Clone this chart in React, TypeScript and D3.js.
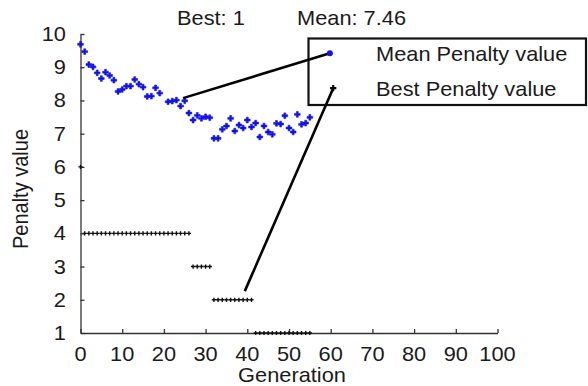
import React, { useEffect, useRef } from 'react';
import * as d3 from 'd3';

// mean penalty per generation (gen = index), gen 20 not visible in the plot
const meanPenalty: (number | null)[] = [
  9.69, 9.47, 9.08, 9.01, 8.83, 8.66, 8.85, 8.75, 8.61, 8.27,
  8.33, 8.43, 8.43, 8.63, 8.49, 8.40, 8.12, 8.13, 8.38, 8.22,
  null, 7.96, 7.98, 8.01, 7.83, 7.99, 7.62, 7.41, 7.55, 7.46,
  7.51, 7.48, 6.86, 6.86, 7.13, 7.23, 7.46, 7.08, 7.26, 7.17,
  7.41, 7.20, 7.32, 6.90, 7.23, 7.05, 6.98, 7.31, 7.29, 7.54,
  7.17, 7.05, 7.58, 7.28, 7.32, 7.49,
];

const bestPenalty: number[] = [
  6, 4, 4, 4, 4, 4, 4, 4, 4, 4,
  4, 4, 4, 4, 4, 4, 4, 4, 4, 4,
  4, 4, 4, 4, 4, 4, 4, 3, 3, 3,
  3, 3, 2, 2, 2, 2, 2, 2, 2, 2,
  2, 2, 1, 1, 1, 1, 1, 1, 1, 1,
  1, 1, 1, 1, 1, 1,
];

const xTicks = [0, 10, 20, 30, 40, 50, 60, 70, 80, 90, 100];
const yTicks = [1, 2, 3, 4, 5, 6, 7, 8, 9, 10];
const titleParts = ['Best: 1', 'Mean: 7.46'];
const legendLabels = ['Mean Penalty value', 'Best Penalty value'];

// callout lines, in data units: [from, to legend marker]
const meanCallout: [number, number][] = [[24.6, 8.07], [59.8, 9.42]];
const bestCallout: [number, number][] = [[39.4, 2.26], [60.6, 8.37]];

const W = 588;
const H = 386;
const FONT = 'Arial, "Liberation Sans", Helvetica, sans-serif';
const FS = 20;
const SX = 1.09; // the picture is a bit stretched sideways
const TXT = '#1a1a1a';
const BLUE = '#1212e8';

const App = () => {
  const ref = useRef<SVGSVGElement>(null);

  useEffect(() => {
    const svg = d3.select(ref.current);
    svg.selectAll('*').remove();

    const x = d3.scaleLinear().domain([0, 100]).range([80.5, 497.5]);
    const y = d3.scaleLinear().domain([1, 10]).range([333, 34]);

    const label = (
      txt: string, px: number, py: number, anchor: string, extra = ''
    ) =>
      svg.append('g')
        .attr('transform', `translate(${px},${py}) ${extra} scale(${SX},1)`)
        .append('text')
        .attr('text-anchor', anchor)
        .attr('font-family', FONT)
        .attr('font-size', FS)
        .attr('fill', TXT)
        .text(txt);

    // axes, ticks pointing inward
    const xAxis = svg.append('g')
      .attr('transform', `translate(0,${y(1)})`)
      .call(d3.axisBottom(x).tickValues(xTicks).tickSizeInner(-4).tickSizeOuter(0).tickFormat(() => ''));
    const yAxis = svg.append('g')
      .attr('transform', `translate(${x(0)},0)`)
      .call(d3.axisLeft(y).tickValues(yTicks).tickSizeInner(-4).tickSizeOuter(0).tickFormat(() => ''));
    [xAxis, yAxis].forEach(a => {
      a.selectAll('path,line').attr('stroke', '#333').attr('stroke-width', 1.3);
    });

    xTicks.forEach(t => label(String(t), x(t), 361, 'middle'));
    yTicks.forEach(t => label(String(t), 66, y(t) + 7, 'end'));

    label('Generation', 292, 382, 'middle');
    svg.append('g')
      .attr('transform', `translate(28,189) rotate(-90) scale(1,${SX})`)
      .append('text')
      .attr('text-anchor', 'middle')
      .attr('font-family', FONT)
      .attr('font-size', FS)
      .attr('fill', TXT)
      .text('Penalty value');

    label(titleParts[0], 177, 25, 'start');
    label(titleParts[1], 297, 25, 'start');

    // series
    const cross = d3.symbol(d3.symbolCross);
    svg.append('g')
      .selectAll('path')
      .data(bestPenalty)
      .join('path')
      .attr('transform', (d, i) => `translate(${x(i)},${y(d)})`)
      .attr('d', cross.size(10)())
      .attr('fill', '#111');

    svg.append('g')
      .selectAll('path')
      .data(meanPenalty.map((v, i) => ({ v, i })).filter(d => d.v !== null))
      .join('path')
      .attr('transform', d => `translate(${x(d.i)},${y(d.v as number)})`)
      .attr('d', cross.size(18)())
      .attr('fill', BLUE)
      .attr('stroke', BLUE)
      .attr('stroke-width', 0.6);

    // legend box
    svg.append('rect')
      .attr('x', 308.5)
      .attr('y', 38.5)
      .attr('width', 277.5)
      .attr('height', 66.5)
      .attr('fill', 'none')
      .attr('stroke', '#111')
      .attr('stroke-width', 2.2);

    label(legendLabels[0], 376, 61, 'start');
    label(legendLabels[1], 376, 96, 'start');

    // callouts
    const line = d3.line<[number, number]>().x(d => x(d[0])).y(d => y(d[1]));
    [meanCallout, bestCallout].forEach(c => {
      svg.append('path')
        .attr('d', line(c))
        .attr('fill', 'none')
        .attr('stroke', '#000')
        .attr('stroke-width', 2.6);
    });

    const m = meanCallout[1];
    svg.append('circle')
      .attr('cx', x(m[0]))
      .attr('cy', y(m[1]))
      .attr('r', 3)
      .attr('fill', BLUE);
    const b = bestCallout[1];
    svg.append('path')
      .attr('transform', `translate(${x(b[0])},${y(b[1])})`)
      .attr('d', cross.size(22)())
      .attr('fill', '#000');
  }, []);

  return (
    <svg
      ref={ref}
      width={W}
      height={H}
      style={{ position: 'absolute', left: 0, top: 0, background: '#fff' }}
    />
  );
};

export default App;
